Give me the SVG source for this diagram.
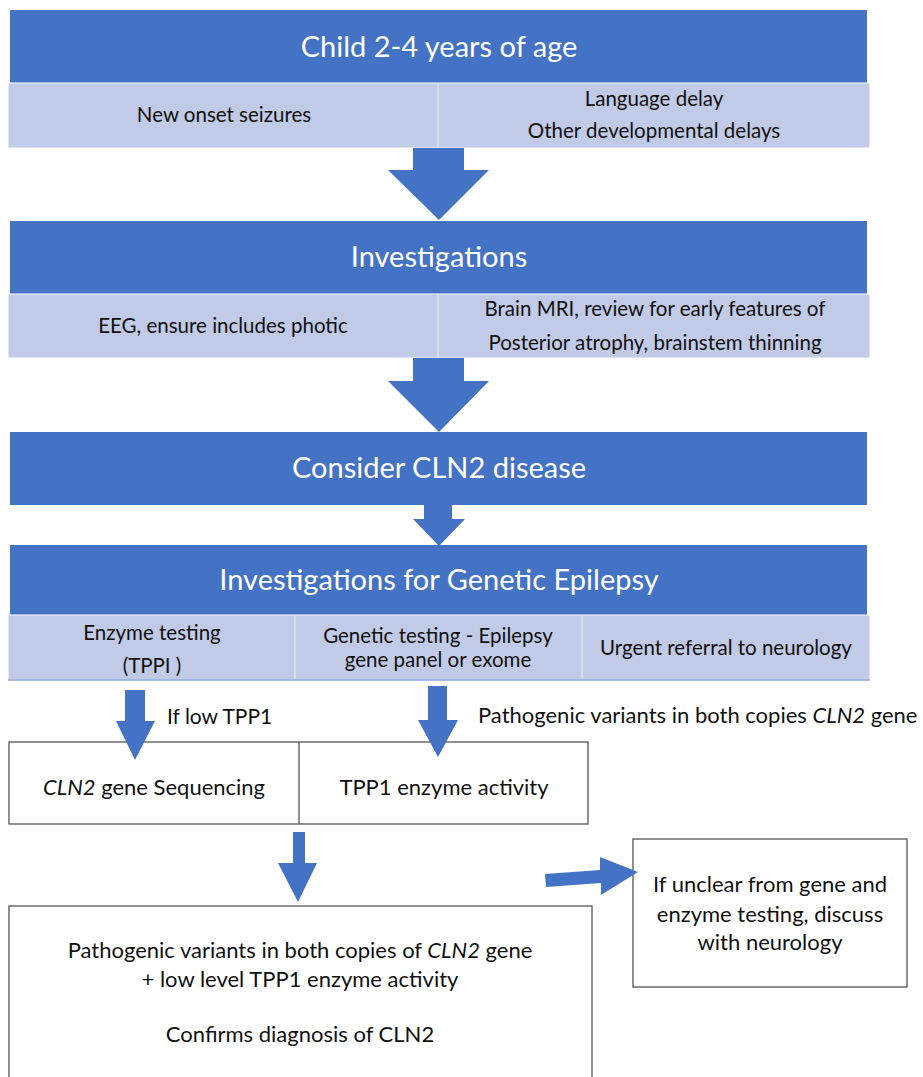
<svg xmlns="http://www.w3.org/2000/svg" width="923" height="1077" viewBox="0 0 923 1077">
<style>
text{font-family:"Lato","Open Sans","Liberation Sans",sans-serif;text-anchor:middle;}
.hd{fill:#4472C4;}
.row{fill:#C1CAE6;stroke:#FFFFFF;stroke-width:1;}
.div{stroke:#DCE1F0;stroke-width:1.5;}
.t{font-size:29px;fill:#FFFFFF;}
.s{font-size:20.5px;fill:#111111;}
.m{font-size:22px;fill:#111111;}
.box{fill:#FFFFFF;stroke:#555555;stroke-width:1.3;}
.arr{fill:#4472C4;}
</style>
<rect width="923" height="1077" fill="#FFFFFF"/>
<g id="n1">
<rect class="hd" x="10" y="10" width="857" height="73"/>
<text class="t" x="439" y="57">Child 2-4 years of age</text>
<rect class="row" x="8" y="83" width="862" height="65"/>
<line class="div" x1="438" y1="84" x2="438" y2="147"/>
<text class="s" x="224" y="122">New onset seizures</text>
<text class="s" x="654" y="106">Language delay</text>
<text class="s" x="654" y="138">Other developmental delays</text>
</g>
<g id="n2">
<rect class="hd" x="10" y="221" width="857" height="73"/>
<text class="t" x="439" y="267">Investigations</text>
<rect class="row" x="8" y="294" width="862" height="64"/>
<line class="div" x1="438" y1="295" x2="438" y2="357"/>
<text class="s" x="223" y="333">EEG, ensure includes photic</text>
<text class="s" x="655" y="316">Brain MRI, review for early features of</text>
<text class="s" x="655" y="350">Posterior atrophy, brainstem thinning</text>
</g>
<g id="n3">
<rect class="hd" x="10" y="432" width="857" height="73"/>
<text class="t" x="439" y="478">Consider CLN2 disease</text>
</g>
<g id="n4">
<rect class="hd" x="10" y="545" width="857" height="70"/>
<text class="t" x="439" y="590">Investigations for Genetic Epilepsy</text>
<rect class="row" x="8" y="615" width="862" height="65"/>
<line x1="8" y1="680" x2="870" y2="680" stroke="#8FA6DA" stroke-width="1.5"/>
<line class="div" x1="295" y1="616" x2="295" y2="679"/>
<line class="div" x1="582" y1="616" x2="582" y2="679"/>
<text class="s" x="152" y="640">Enzyme testing</text>
<text class="s" x="152" y="673">(TPPI )</text>
<text class="s" x="438" y="643">Genetic testing - Epilepsy</text>
<text class="s" x="438" y="667">gene panel or exome</text>
<text class="s" x="726" y="655">Urgent referral to neurology</text>
</g>
<g id="n5">
<rect class="box" x="9" y="742" width="579" height="82"/>
<line x1="299" y1="742" x2="299" y2="824" stroke="#555555" stroke-width="1.3"/>
<text class="m" x="154" y="795"><tspan font-style="italic">CLN2</tspan> gene Sequencing</text>
<text class="m" x="444" y="795">TPP1 enzyme activity</text>
</g>
<g id="n6">
<rect class="box" x="633" y="839" width="274" height="148"/>
<text class="m" x="770" y="892">If unclear from gene and</text>
<text class="m" x="770" y="922">enzyme testing, discuss</text>
<text class="m" x="770" y="950">with neurology</text>
</g>
<g id="n7">
<rect class="box" x="9" y="906" width="583" height="180"/>
<text class="m" x="300" y="958">Pathogenic variants in both copies of <tspan font-style="italic">CLN2</tspan> gene</text>
<text class="m" x="300" y="987">+ low level TPP1 enzyme activity</text>
<text class="m" x="300" y="1042">Confirms diagnosis of CLN2</text>
</g>
<g id="connectors">
<polygon class="arr" points="413,148 464,148 464,170 489,170 439,220 388,170 413,170"/>
<polygon class="arr" points="413,358 464,358 464,381 489,381 439,432 388,381 413,381"/>
<polygon class="arr" points="424,505 452,505 452,519 465,519 439,546 413,519 424,519"/>
<polygon class="arr" points="125,690 145,690 145,721 155,721 135,760 116,721 125,721"/>
<text class="m" x="167" y="724" style="text-anchor:start;font-size:21px">If low TPP1</text>
<polygon class="arr" points="428,686 447,686 447,720 458,720 438,757 418,720 428,720"/>
<text class="m" x="478" y="723" style="text-anchor:start">Pathogenic variants in both copies <tspan font-style="italic">CLN2</tspan> gene</text>
<polygon class="arr" points="293,832 305,832 305,863 317,863 298,902 278,863 293,863"/>
<polygon class="arr" points="545,874 600,870 600,857 638,872 601,895 601,883 546,887"/>
</g>
</svg>
